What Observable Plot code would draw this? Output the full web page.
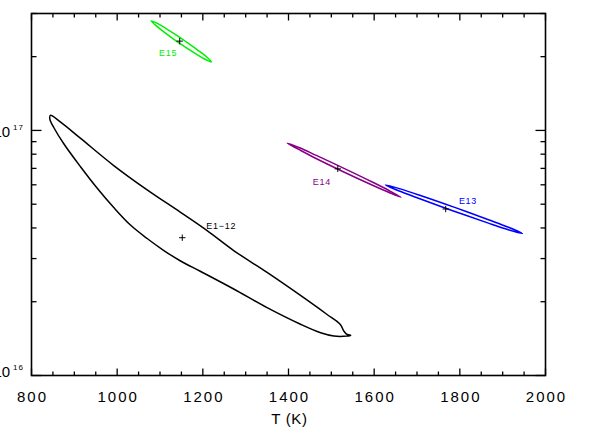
<!DOCTYPE html>
<html><head><meta charset="utf-8">
<script src="https://cdn.jsdelivr.net/npm/d3@7"></script>
<script src="https://cdn.jsdelivr.net/npm/@observablehq/plot@0.6"></script>
<style>body{margin:0;background:#fff} #chart svg{display:block}</style>
</head><body><div id="chart"></div>
<script>
// Confidence contours: temperature T (K) and column density N
const e112T = [844, 868, 914, 992, 1070, 1148, 1210, 1272, 1350, 1428, 1490, 1521, 1529, 1537, 1545,
               1537, 1506, 1475, 1428, 1350, 1272, 1195, 1148, 1109, 1070, 1031, 992, 953, 914, 875, 852, 843];
const e112N = [1.152e17, 1.081e17, 9.30e16, 7.19e16, 5.72e16, 4.63e16, 3.90e16, 3.236e16, 2.633e16, 2.121e16, 1.774e16, 1.615e16, 1.52e16, 1.47e16, 1.458e16,
               1.449e16, 1.449e16, 1.494e16, 1.618e16, 1.891e16, 2.254e16, 2.657e16, 2.933e16, 3.236e16, 3.622e16, 4.111e16, 4.846e16, 5.821e16, 7.124e16, 8.842e16, 1.028e17, 1.110e17];
const e13T = [1626, 1659, 1708, 1788, 1867, 1915, 1946, 1913, 1865, 1785, 1705, 1657];
const e13N = [5.995e16, 5.787e16, 5.428e16, 4.853e16, 4.321e16, 4.016e16, 3.798e16, 3.936e16, 4.196e16, 4.692e16, 5.272e16, 5.671e16];
const e14T = [1397, 1426, 1465, 1532, 1598, 1637, 1663, 1636, 1595, 1528, 1462, 1424];
const e14N = [8.872e16, 8.502e16, 7.906e16, 6.972e16, 6.131e16, 5.658e16, 5.333e16, 5.566e16, 5.986e16, 6.785e16, 7.720e16, 8.364e16];
const e15T = [1079, 1095, 1117, 1153, 1187, 1208, 1220, 1204, 1182, 1146, 1112, 1092];
const e15N = [2.802e17, 2.727e17, 2.587e17, 2.355e17, 2.133e17, 2.002e17, 1.904e17, 1.956e17, 2.062e17, 2.265e17, 2.502e17, 2.665e17];

// Best-fit points
const fitT = [1152, 1767, 1515, 1146];
const fitN = [3.65e16, 4.78e16, 6.97e16, 2.314e17];

// Labels
const labelText = ["E1\u221212", "E13", "E14", "E15"];
const labelT = [1243, 1819, 1478, 1119];
const labelN = [4.08e16, 5.14e16, 6.14e16, 2.06e17];
const colors = ["black", "#0000ff", "#880088", "#00ee00"];

// Axis ticks
const xMajor = [800, 1000, 1200, 1400, 1600, 1800, 2000];
const xMinor = [850, 900, 950, 1050, 1100, 1150, 1250, 1300, 1350, 1450, 1500, 1550, 1650, 1700, 1750, 1850, 1900, 1950];
const yMajor = [1e16, 1e17];
const yMinor = [2e16, 3e16, 4e16, 5e16, 6e16, 7e16, 8e16, 9e16, 2e17, 3e17];
const yExp = ["16", "17"];
const xTitle = "T (K)";

const toRows = (T, N) => T.map((t, i) => ({T: t, N: N[i]}));
const contours = [toRows(e112T, e112N), toRows(e13T, e13N), toRows(e14T, e14N), toRows(e15T, e15N)];
const fits = fitT.map((t, i) => ({T: t, N: fitN[i]}));
const labels = labelText.map((s, i) => ({s, T: labelT[i], N: labelN[i], c: colors[i]}));

const tickShape = {draw(ctx, l) { ctx.moveTo(0, 0); ctx.lineTo(0, -l); }};
const tk = (mk, data, acc, anchor, rot, len) => mk(data, {[acc]: d => d, frameAnchor: anchor, rotate: rot, length: len,
  anchor: "start", shape: tickShape, stroke: "black", strokeWidth: 1.3, strokeLinecap: "butt"});

const chart = Plot.plot({
  width: 598, height: 441,
  marginLeft: 31, marginRight: 53, marginTop: 13, marginBottom: 66,
  style: {fontFamily: "Liberation Sans, Arial, sans-serif", background: "white", color: "black"},
  x: {domain: [800, 2000], label: null},
  y: {type: "log", domain: [1e16, 3e17], label: null},
  marks: [
    ...contours.map((c, i) => Plot.line(c, {x: "T", y: "N", stroke: colors[i], strokeWidth: 1.5, curve: "catmull-rom-closed"})),
    Plot.dot(fits, {x: "T", y: "N", symbol: "plus", r: 2.2, stroke: "black", strokeWidth: 1}),
    Plot.text(labels, {x: "T", y: "N", text: "s", fill: "c", fontSize: 9}),
    Plot.frame({stroke: "black", strokeWidth: 1.6}),
    tk(Plot.vectorX, xMajor, "x", "bottom", 0, 7),
    tk(Plot.vectorX, xMinor, "x", "bottom", 0, 4),
    tk(Plot.vectorX, xMajor, "x", "top", 180, 7),
    tk(Plot.vectorX, xMinor, "x", "top", 180, 4),
    tk(Plot.vectorY, yMajor, "y", "left", 90, 10),
    tk(Plot.vectorY, yMinor, "y", "left", 90, 5),
    tk(Plot.vectorY, yMajor, "y", "right", -90, 10),
    tk(Plot.vectorY, yMinor, "y", "right", -90, 5),
    Plot.axisX(xMajor, {tickSize: 0, tickPadding: 16, fontSize: 15, label: null, dx: 1, tickFormat: d => String(d)}),
    Plot.axisY([yMajor[1]], {tickSize: 0, tickPadding: 7.5, fontSize: 15, label: null, tickFormat: () => "10", dy: 1.7}),
    Plot.axisY([yMajor[0]], {tickSize: 0, tickPadding: 7.5, fontSize: 15, label: null, tickFormat: () => "10", dy: -3.8}),
    Plot.text([xTitle], {text: d => d, frameAnchor: "bottom", lineAnchor: "bottom", dy: 48.5, fontSize: 15, dx: 1})
  ]
});
document.getElementById("chart").appendChild(chart);

// letter spacing & superscripts
d3.select(chart).selectAll('[aria-label="x-axis tick label"]').attr("letter-spacing", 2);
d3.select(chart).selectAll('[aria-label="text"]').attr("letter-spacing", 0.7);
const yl = d3.select(chart).selectAll('[aria-label="y-axis tick label"] text').nodes();
// first axisY is 1e17, second is 1e16
[yExp[1], yExp[0]].forEach((e, i) => {
  if (!yl[i]) return;
  d3.select(yl[i]).append("tspan").attr("dx", 3).attr("dy", -7).attr("font-size", 8).attr("letter-spacing", 1).text(e);
});
</script>
</body></html>
